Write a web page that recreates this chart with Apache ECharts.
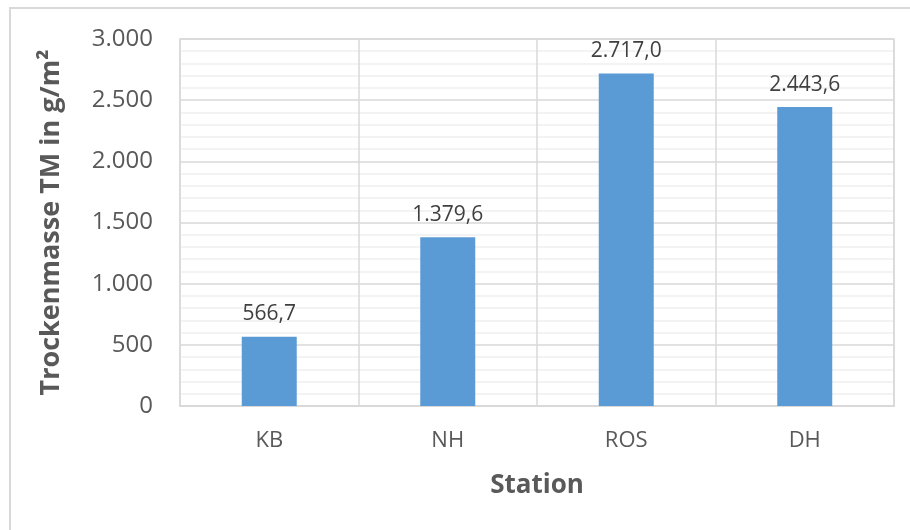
<!DOCTYPE html>
<html>
<head>
<meta charset="utf-8">
<script src="https://cdn.jsdelivr.net/npm/echarts@6/dist/echarts.min.js"></script>
<style>
  html, body { margin: 0; padding: 0; background: #fff; }
  #chart { width: 910px; height: 530px; }
</style>
</head>
<body>
<div id="chart"></div>
<script>
// Dry mass per station
const stations = ['KB', 'NH', 'ROS', 'DH'];
const dryMass = [566.7, 1379.6, 2717.0, 2443.6];
const yTicks = [0, 500, 1000, 1500, 2000, 2500, 3000];

const FONT = '"Open Sans", "Liberation Sans", sans-serif';
const TEXT = '#595959';

// German number format: "." thousands separator, "," decimal separator
function deNumber(v, decimals) {
  const fixed = Number(v).toFixed(decimals);
  const parts = fixed.split('.');
  const intPart = parts[0].replace(/\B(?=(\d{3})+(?!\d))/g, '.');
  return parts.length > 1 ? intPart + ',' + parts[1] : intPart;
}

const chart = echarts.init(document.getElementById('chart'), null, { renderer: 'canvas' });

chart.setOption({
  animation: false,
  backgroundColor: '#fff',
  textStyle: { fontFamily: FONT },
  graphic: [{
    type: 'rect',
    shape: { x: 10, y: 8, width: 940, height: 560 },
    style: { fill: 'none', stroke: '#d9d9d9', lineWidth: 2 },
    silent: true
  }],
  grid: {
    left: 180, top: 39, right: 16, bottom: 124,
    show: true, borderColor: '#d9d9d9', borderWidth: 1.5, backgroundColor: 'transparent'
  },
  xAxis: {
    type: 'category',
    data: stations,
    boundaryGap: true,
    name: 'Station',
    nameLocation: 'middle',
    nameGap: 67,
    nameTextStyle: { fontFamily: FONT, fontSize: 26, fontWeight: 'bold', color: TEXT },
    axisLine: { show: true, lineStyle: { color: '#d9d9d9', width: 2 } },
    axisTick: { show: false },
    axisLabel: { fontFamily: FONT, fontSize: 22, color: TEXT, margin: 24 },
    splitLine: { show: true, lineStyle: { color: '#d9d9d9', width: 1.5 } }
  },
  yAxis: {
    type: 'value',
    min: yTicks[0],
    max: yTicks[yTicks.length - 1],
    interval: yTicks[1] - yTicks[0],
    name: 'Trockenmasse TM in g/m²',
    nameLocation: 'middle',
    nameGap: 115,
    nameTextStyle: { fontFamily: FONT, fontSize: 27, fontWeight: 'bold', color: TEXT },
    axisLine: { show: false },
    axisTick: { show: false },
    axisLabel: {
      fontFamily: FONT, fontSize: 24, color: TEXT, margin: 27,
      formatter: v => deNumber(v, 0)
    },
    splitLine: { show: true, lineStyle: { color: '#d9d9d9', width: 1.5 } },
    minorTick: { show: false, splitNumber: 5 },
    minorSplitLine: { show: true, lineStyle: { color: '#f0f0f0', width: 1.5 } }
  },
  series: [{
    type: 'bar',
    data: dryMass,
    barWidth: 55,
    itemStyle: { color: '#5b9bd5' },
    label: {
      show: true,
      position: 'top',
      distance: 12,
      fontFamily: FONT,
      fontSize: 21,
      color: '#404040',
      formatter: p => deNumber(p.value, 1)
    }
  }]
});
</script>
</body>
</html>
